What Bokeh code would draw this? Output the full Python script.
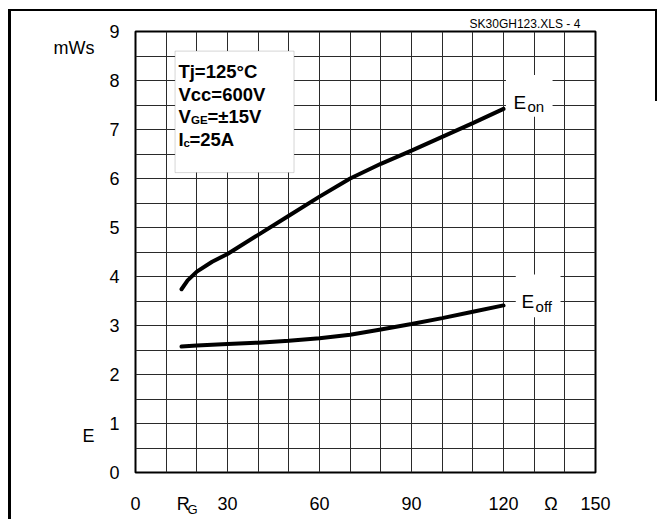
from bokeh.plotting import figure
from bokeh.models import Label, BoxAnnotation, FixedTicker, Range1d, LinearAxis
from bokeh.embed import file_html
from bokeh.resources import INLINE

# ---- data ----
rg_on = [15, 17, 20, 25, 30, 40, 50, 60, 70, 80, 90, 100, 110, 120]
e_on = [3.74, 3.92, 4.10, 4.30, 4.46, 4.85, 5.24, 5.63, 6.00, 6.30, 6.57, 6.85, 7.13, 7.42]
rg_off = [15, 20, 30, 40, 50, 60, 70, 80, 90, 100, 110, 120]
e_off = [2.57, 2.59, 2.62, 2.65, 2.69, 2.74, 2.81, 2.92, 3.03, 3.15, 3.28, 3.41]
x_ticks = [0, 30, 60, 90, 120, 150]
y_ticks = [0, 1, 2, 3, 4, 5, 6, 7, 8, 9]
x_grid = list(range(0, 151, 10))
y_grid = [i * 0.5 for i in range(19)]
x_unit_pos = {15.6: "R", 135.5: "Ω"}
x_sub_pos = {18.6: "G"}
y_name_pos = {8.66: "mWs", 0.75: "E"}
header_pos = {127: "SK30GH123.XLS - 4"}

FONT = "Liberation Sans"

frame_css = {
    "background-color": "white",
    "background-image": "linear-gradient(#000,#000), linear-gradient(#000,#000), linear-gradient(#000,#000)",
    "background-position": "8px 9px, 8px 9px, 655px 9px",
    "background-size": "3px 510px, 649px 2px, 2px 92px",
    "background-repeat": "no-repeat",
}

p = figure(width=661, height=519, output_backend="svg", toolbar_location=None,
           x_range=Range1d(0, 150), y_range=Range1d(0, 9),
           min_border_left=135, min_border_right=66,
           min_border_top=31, min_border_bottom=45,
           styles=frame_css)
p.background_fill_color = "white"
p.border_fill_color = None
p.outline_line_color = "black"
p.outline_line_width = 2

# grid
p.xgrid.ticker = FixedTicker(ticks=x_grid)
p.ygrid.ticker = FixedTicker(ticks=y_grid)
for g in (p.xgrid, p.ygrid):
    g.grid_line_color = "#2a2a2a"
    g.grid_line_width = 1
    g.grid_line_alpha = 1


def style_axis(ax, size, standoff):
    ax.axis_line_color = None
    ax.major_tick_line_color = None
    ax.minor_tick_line_color = None
    ax.major_tick_out = 0
    ax.major_tick_in = 0
    ax.minor_tick_out = 0
    ax.minor_tick_in = 0
    ax.major_label_text_font = FONT
    ax.major_label_text_font_size = size
    ax.major_label_text_color = "black"
    ax.major_label_standoff = standoff


# main axes
p.xaxis.ticker = FixedTicker(ticks=x_ticks + list(x_unit_pos))
p.xaxis.major_label_overrides = x_unit_pos
p.yaxis.ticker = FixedTicker(ticks=y_ticks)
style_axis(p.xaxis[0], "18px", 21)
style_axis(p.yaxis[0], "18px", 16)

# extra axes carrying the names / units / header
ax_names = LinearAxis(ticker=FixedTicker(ticks=list(y_name_pos)),
                      major_label_overrides=y_name_pos)
style_axis(ax_names, "18px", 12)
p.add_layout(ax_names, "left")

ax_sub = LinearAxis(ticker=FixedTicker(ticks=list(x_sub_pos)),
                    major_label_overrides=x_sub_pos)
style_axis(ax_sub, "13px", -15)
p.add_layout(ax_sub, "below")

ax_head = LinearAxis(ticker=FixedTicker(ticks=list(header_pos)),
                     major_label_overrides=header_pos)
style_axis(ax_head, "12px", 1)
p.add_layout(ax_head, "above")

# curves
p.line(rg_on, e_on, line_width=4, line_color="black", line_cap="round")
p.line(rg_off, e_off, line_width=4, line_color="black", line_cap="round")

# white patches behind curve names
p.add_layout(BoxAnnotation(left=120.8, right=136, bottom=7.26, top=8.11,
                           fill_color="white", fill_alpha=1, line_color=None))
p.add_layout(BoxAnnotation(left=124, right=138.6, bottom=3.17, top=4.04,
                           fill_color="white", fill_alpha=1, line_color=None))

# condition box
p.add_layout(BoxAnnotation(left=12.9, right=51.7, bottom=6.12, top=8.6,
                           fill_color="white", fill_alpha=1,
                           line_color="#777777", line_width=1))


def lab(x, y, text, size, bold=False, xoff=0):
    p.add_layout(Label(x=x, y=y, text=text, x_offset=xoff,
                       text_font=FONT, text_font_size=size,
                       text_font_style="bold" if bold else "normal",
                       text_color="black", text_align="left",
                       text_baseline="alphabetic"))


bx = 14.0
lab(bx, 8.18, "Tj=125°C", "18.5px", True)
lab(bx, 7.72, "Vcc=600V", "18.5px", True)
lab(bx, 7.26, "V", "18.5px", True)
lab(bx, 7.26 - 0.075, "GE", "11.5px", True, xoff=12.5)
lab(bx, 7.26, "=±15V", "18.5px", True, xoff=29)
lab(bx, 6.79, "I", "18.5px", True)
lab(bx, 6.79 - 0.075, "c", "11.5px", True, xoff=5)
lab(bx, 6.79, "=25A", "18.5px", True, xoff=11)

# curve names
lab(123.25, 7.56, "E", "19px")
lab(123.25, 7.56 - 0.09, "on", "15px", xoff=14)
lab(125.9, 3.48, "E", "19px")
lab(125.9, 3.48 - 0.09, "off", "15px", xoff=14)

open("out.html", "w").write(file_html(p, INLINE))
